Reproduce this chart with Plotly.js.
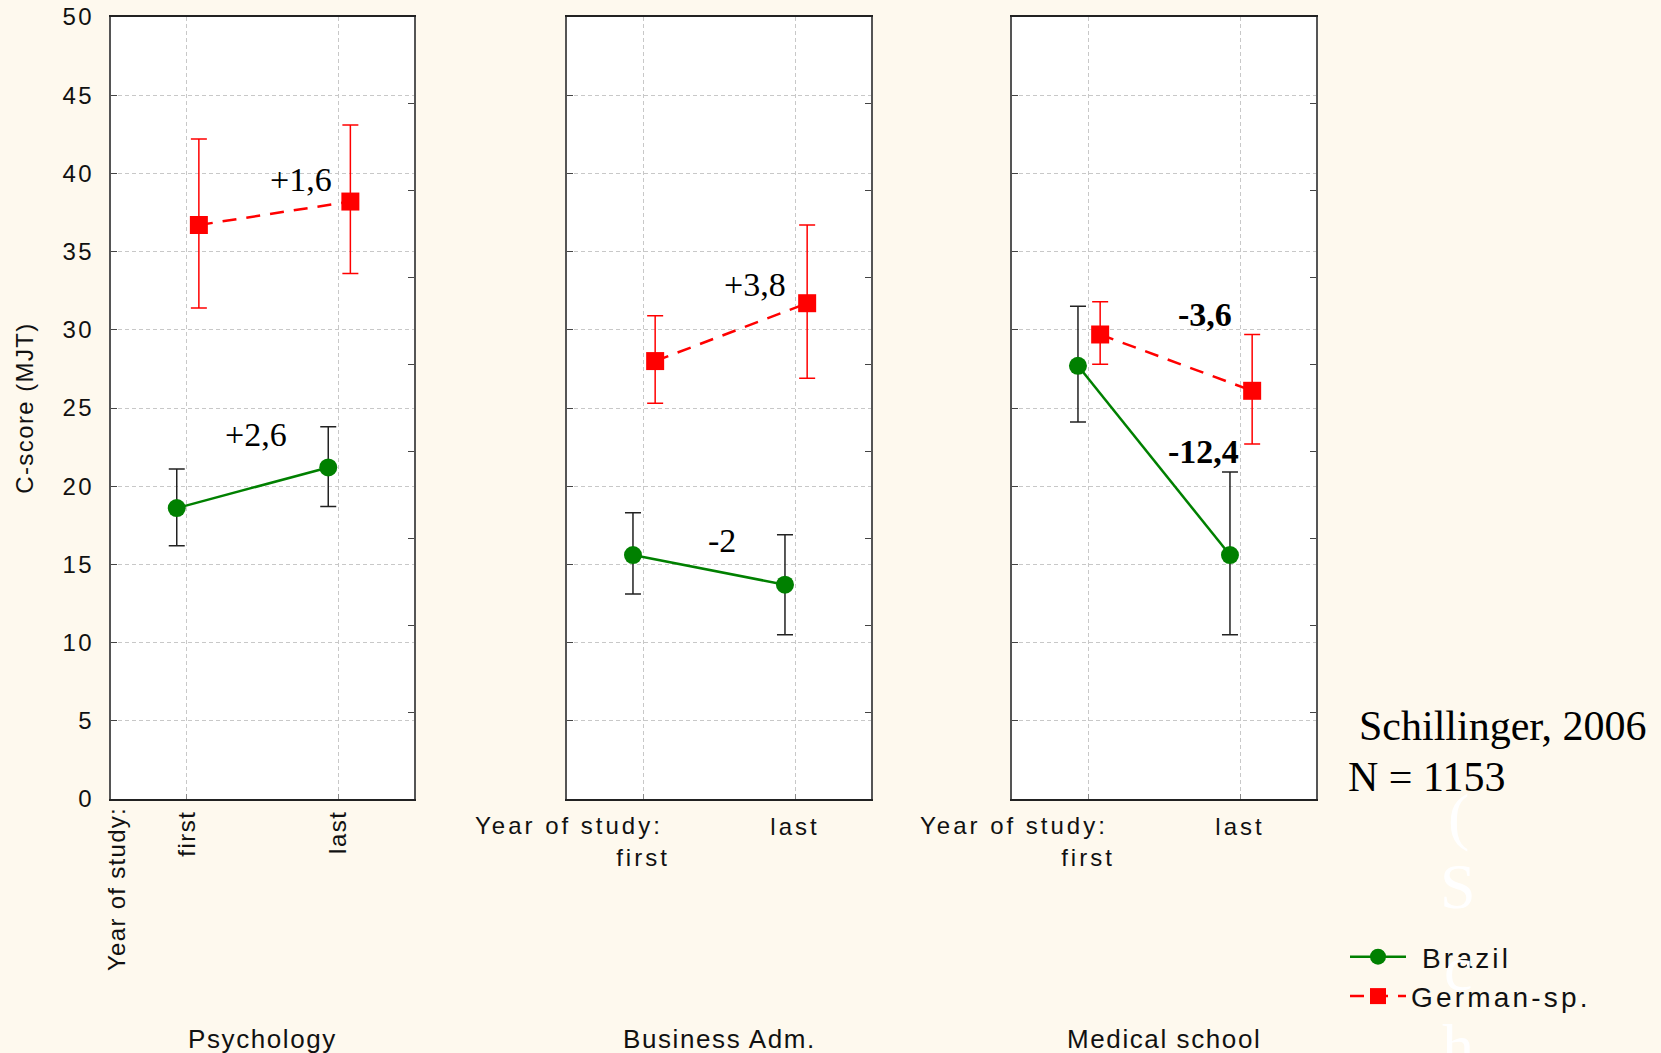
<!DOCTYPE html>
<html>
<head>
<meta charset="utf-8">
<script src="https://cdn.plot.ly/plotly-3.0.1.min.js"></script>
<style>
  html, body { margin: 0; padding: 0; background: #fef9ee; }
  #chart { width: 1661px; height: 1053px; }
</style>
</head>
<body>
<div id="chart"></div>
<script>
// ---------------- DATA ----------------
const categories = ['first', 'last'];
const panelNames = ['Psychology', 'Business Adm.', 'Medical school'];
const seriesNames = ['Brazil', 'German-sp.'];

// C-score means per panel [first, last]
const brazilMeans  = [[18.6, 21.2], [15.6, 13.7], [27.7, 15.6]];
const brazilUpper  = [[21.1, 23.8], [18.3, 16.9], [31.5, 20.9]];
const brazilLower  = [[16.2, 18.7], [13.1, 10.5], [24.1, 10.5]];

const germanMeans  = [[36.7, 38.2], [28.0, 31.7], [29.7, 26.1]];
const germanUpper  = [[42.2, 43.1], [30.9, 36.7], [31.8, 29.7]];
const germanLower  = [[31.4, 33.6], [25.3, 26.9], [27.8, 22.7]];

// change labels per panel [Brazil, German-sp.]
const changeLabels = [['+2,6', '+1,6'], ['-2', '+3,8'], ['-12,4', '-3,6']];

const yTicks = [0, 5, 10, 15, 20, 25, 30, 35, 40, 45, 50];
const yTitle = 'C-score (MJT)';
const xLead = 'Year of study:';
const sourceText = 'Schillinger, 2006';
const nText = 'N = 1153';

// ---------------- LAYOUT HELPERS ----------------
const W = 1661, H = 1053;
const px = x => x / W;
const py = y => 1 - y / H;
const xDomPx = [[111, 414], [567, 871], [1012, 1316]];
const yDomPx = [17, 799];
const BR_OFF = -0.066, GE_OFF = 0.08;

const SANS = 'Liberation Sans, Arial, Helvetica, sans-serif';
const SERIF = 'Liberation Serif, Times New Roman, serif';
const GREEN = '#008000', RED = '#ff0000';

// letter-spaced text (the original uses widely tracked sans labels)
const sp = (t, s) => '<span style="letter-spacing:' + s + 'px">' + t + '</span>';

// annotation positions (data coords of each panel) for [Brazil, German] labels
const labelPos = [
  [[0.457, 23.3], [0.754, 39.6]],
  [[0.52, 16.5], [0.737, 32.9]],
  [[0.757, 22.25], [0.77, 31.0]]
];

const traces = [];
const layout = {
  width: W, height: H,
  margin: {l: 0, r: 0, t: 0, b: 0},
  paper_bgcolor: '#fef9ee',
  plot_bgcolor: '#ffffff',
  showlegend: true,
  legend: {
    x: px(1345), y: py(932), xanchor: 'left', yanchor: 'top',
    font: {family: SANS, size: 28, color: '#111'},
    bgcolor: 'rgba(0,0,0,0)', itemwidth: 56, tracegroupgap: 0
  },
  annotations: []
};

for (let i = 0; i < 3; i++) {
  const sfx = i === 0 ? '' : String(i + 1);
  const xa = 'x' + sfx, ya = 'y' + sfx;
  const yo = 'y' + (i + 4);

  const mk = (name, means, up, lo, off, color, sym, dash, ecolor, lead) => ({
    type: 'scatter', mode: 'lines+markers', name: sp(lead + name, 3.2),
    x: categories.map((c, j) => j + off),
    y: means,
    xaxis: xa, yaxis: ya,
    showlegend: i === 0,
    legendgroup: name,
    line: {color: color, width: 2.5, dash: dash},
    marker: {color: color, size: 18, symbol: sym},
    error_y: {
      type: 'data', symmetric: false,
      array: up.map((u, j) => u - means[j]),
      arrayminus: lo.map((l, j) => means[j] - l),
      color: ecolor, thickness: 1.5, width: 8
    },
    hoverinfo: 'y'
  });
  traces.push(mk(seriesNames[0], brazilMeans[i], brazilUpper[i], brazilLower[i], BR_OFF, GREEN, 'circle', 'solid', '#222', '&nbsp;'));
  traces.push(mk(seriesNames[1], germanMeans[i], germanUpper[i], germanLower[i], GE_OFF, RED, 'square', '14px,10px', RED, ''));
  // empty helper trace so the right-hand tick axis is drawn
  traces.push({type: 'scatter', mode: 'markers', x: [], y: [], xaxis: xa, yaxis: yo,
               showlegend: false, hoverinfo: 'skip'});

  layout['xaxis' + sfx] = {
    domain: [px(xDomPx[i][0]), px(xDomPx[i][1])],
    anchor: ya,
    range: [-0.5, 1.5],
    tickmode: 'array', tickvals: [0, 1],
    ticktext: i === 0 ? categories.map(c => sp(c, 1.5))
                      : ['<br>' + sp(categories[0], 3), sp(categories[1], 3)],
    tickangle: i === 0 ? -90 : 0,
    ticklabelstandoff: i === 0 ? 0 : 5,
    tickfont: {family: SANS, size: 24, color: '#111'},
    ticks: 'inside', ticklen: 5, tickcolor: '#888', tickwidth: 1,
    showgrid: true, gridcolor: '#c8c8c8', griddash: '4px,3px', gridwidth: 1,
    showline: true, linecolor: '#222', linewidth: 2, mirror: true,
    zeroline: false, fixedrange: true
  };
  layout['yaxis' + sfx] = {
    domain: [py(yDomPx[1]), py(yDomPx[0])],
    anchor: xa,
    range: [0, 50],
    tickmode: 'array', tickvals: yTicks, ticktext: yTicks.map(v => sp(String(v), 2.5)),
    showticklabels: i === 0,
    tickfont: {family: SANS, size: 24, color: '#111'},
    ticklabelstandoff: 10,
    ticks: 'inside', ticklen: 6, tickcolor: '#444', tickwidth: 1,
    showgrid: true, gridcolor: '#c8c8c8', griddash: '4px,3px', gridwidth: 1,
    showline: true, linecolor: '#555', linewidth: 2, mirror: true,
    zeroline: false, fixedrange: true,
    title: i === 0 ? {text: sp(yTitle, 1.4), font: {family: SANS, size: 24, color: '#111'}, standoff: 22} : undefined
  };
  layout['yaxis' + (i + 4)] = {
    overlaying: ya, anchor: xa, side: 'right',
    range: [0, 9], dtick: 1,
    ticks: 'inside', ticklen: 6, tickcolor: '#444', tickwidth: 1,
    showticklabels: false, showgrid: false, zeroline: false, showline: false,
    fixedrange: true
  };

  // change labels
  for (let s = 0; s < 2; s++) {
    layout.annotations.push({
      xref: xa, yref: ya, x: labelPos[i][s][0], y: labelPos[i][s][1],
      text: i === 2 ? '<b>' + changeLabels[i][s] + '</b>' : changeLabels[i][s],
      showarrow: false, xanchor: 'center', yanchor: 'middle',
      font: {family: SERIF, size: 34, color: '#000'}
    });
  }
  // panel name
  layout.annotations.push({
    xref: xa + ' domain', yref: 'paper', x: 0.5, y: py(1039),
    text: sp(panelNames[i], 1.6), showarrow: false, xanchor: 'center', yanchor: 'middle',
    font: {family: SANS, size: 26, color: '#111'}
  });
  // "Year of study:"
  if (i === 0) {
    layout.annotations.push({
      xref: 'paper', yref: 'paper', x: px(116), y: py(805),
      text: sp(xLead, 1.3), textangle: -90, showarrow: false,
      xanchor: 'center', yanchor: 'top',
      font: {family: SANS, size: 24, color: '#111'}
    });
  } else {
    layout.annotations.push({
      xref: xa + ' domain', yref: 'paper', x: -94 / 304, y: py(825),
      text: sp(xLead, 3), showarrow: false, xanchor: 'left', yanchor: 'middle',
      font: {family: SANS, size: 24, color: '#111'}
    });
  }
}

// source / N
layout.annotations.push({
  xref: 'paper', yref: 'paper', x: px(1357), y: py(726), text: sourceText,
  showarrow: false, xanchor: 'left', yanchor: 'middle',
  font: {family: SERIF, size: 42, color: '#000'}
});
layout.annotations.push({
  xref: 'paper', yref: 'paper', x: px(1346), y: py(777), text: nText,
  showarrow: false, xanchor: 'left', yanchor: 'middle',
  font: {family: SERIF, size: 42, color: '#000'}
});
// faint white vertical letters in the background
const ghost = ['(', 'S', 'c', 'h'];
const ghostY = [816, 886, 968, 1046];
ghost.forEach((g, k) => {
  layout.annotations.push({
    xref: 'paper', yref: 'paper', x: px(1458), y: py(ghostY[k]), text: g,
    showarrow: false, xanchor: 'center', yanchor: 'middle',
    font: {family: SERIF, size: 64, color: '#ffffff'}
  });
});

Plotly.newPlot('chart', traces, layout, {displayModeBar: false, staticPlot: true});
</script>
</body>
</html>
